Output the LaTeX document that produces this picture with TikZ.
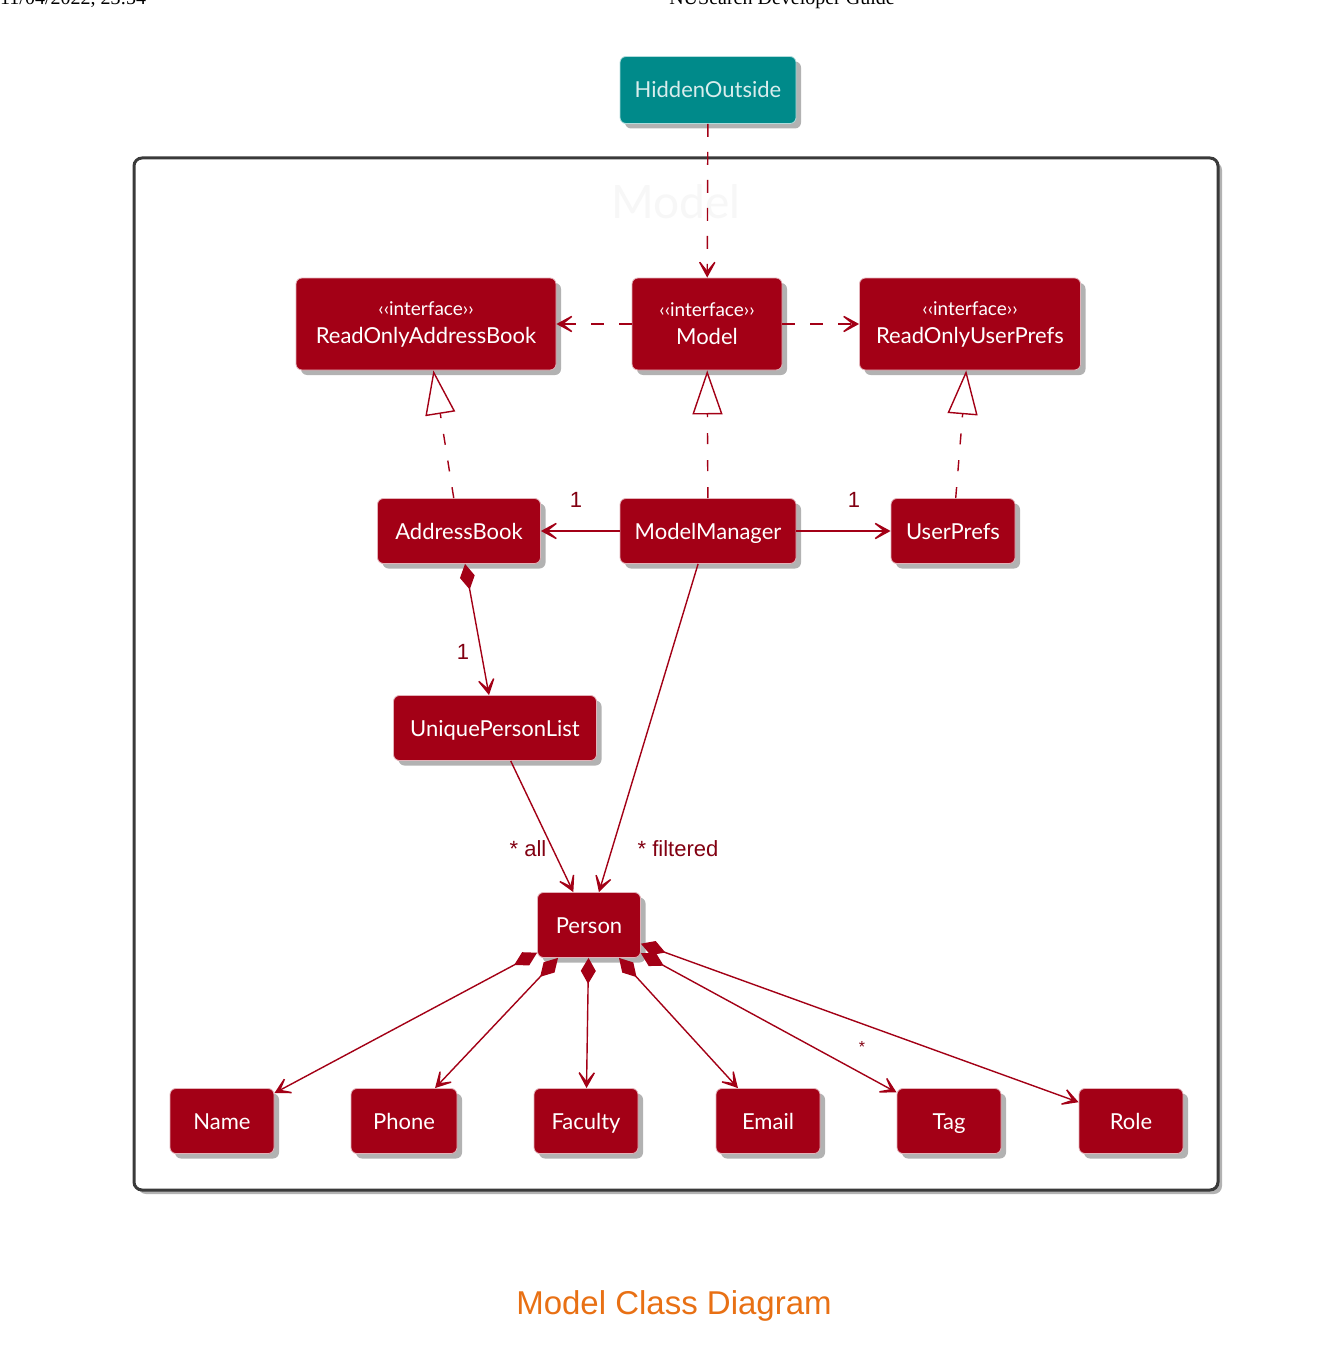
\documentclass[tikz,border=0pt]{standalone}
\usepackage{fontspec}
\setmainfont{Lato}
\newfontfamily\capfont{Liberation Sans}
\newfontfamily\headfont{Liberation Serif}
\usetikzlibrary{arrows.meta,shadows}
\definecolor{umlred}{RGB}{163,0,22}
\definecolor{umlteal}{RGB}{0,138,138}
\definecolor{framegray}{RGB}{58,58,58}
\definecolor{caporange}{RGB}{232,112,20}
\begin{document}
\begin{tikzpicture}[x=1pt, y=-1pt,
  cls/.style={draw=white!70!umlred, line width=0.8pt, fill=umlred, text=white, rounded corners=6pt,
    minimum height=65pt, inner xsep=6pt, font=\fontsize{22}{25}\selectfont,
    drop shadow={shadow xshift=5pt, shadow yshift=-5pt, opacity=0.3, fill=black}},
  plain/.style={cls, text height=18pt, text depth=2pt},
  iface/.style={cls, minimum height=92pt, align=center},
  mult/.style={text=umlred!80!black, font=\capfont\fontsize{22}{24}\selectfont, inner sep=1pt},
  assoc/.style={draw=umlred, line width=1.4pt, -{Stealth[length=22pt, width=24pt, inset=15pt]}},
  dep/.style={assoc, dash pattern=on 13pt off 15pt},
  impl/.style={draw=umlred, line width=1.4pt, dash pattern=on 11pt off 16pt,
    -{Triangle[open, length=44pt, width=30pt, fill=white]}},
  comp/.style={assoc, {Diamond[length=26pt, width=15pt]}-{Stealth[length=22pt, width=24pt, inset=15pt]}}]
\useasboundingbox (0,0) rectangle (1336,1356);
\node[font=\headfont\fontsize{20}{22}\selectfont, anchor=base west, inner sep=0pt] (date) at (0,5) {11/04/2022, 23:54};
\node[font=\headfont\fontsize{20}{22}\selectfont, anchor=base, inner sep=0pt] (header) at (782,5) {NUSearch Developer Guide};
\draw[framegray, line width=3pt, rounded corners=8pt, fill=white,
  drop shadow={shadow xshift=4pt, shadow yshift=-4pt, opacity=0.3, fill=black}] (134,158) rectangle (1218,1190);
\node[text=black!3, font=\fontsize{46}{50}\selectfont] (pkgtitle) at (676,202) {Model};
\node[plain, fill=umlteal, draw=white!70!umlteal, text=white!85!umlteal, minimum width=176pt, minimum height=67pt] (hidden) at (708,90) {HiddenOutside};
\node[iface, minimum width=260pt] (roab) at (426,324) {{\fontsize{19}{21}\selectfont ‹‹interface››}\\[3pt]ReadOnlyAddressBook};
\node[iface, minimum width=150pt] (model) at (707,324) {{\fontsize{19}{21}\selectfont ‹‹interface››}\\[3pt]Model};
\node[iface, minimum width=221pt] (roup) at (970,324) {{\fontsize{19}{21}\selectfont ‹‹interface››}\\[3pt]ReadOnlyUserPrefs};
\node[plain, minimum width=163pt] (ab) at (459,531) {AddressBook};
\node[plain, minimum width=176pt] (mm) at (708,531) {ModelManager};
\node[plain, minimum width=124pt] (up) at (953,531) {UserPrefs};
\node[plain, minimum width=203pt] (upl) at (495,728) {UniquePersonList};
\node[plain, minimum width=103pt] (person) at (589,925) {Person};
\node[plain, minimum width=104pt] (name) at (222,1121) {Name};
\node[plain, minimum width=106pt] (phone) at (404,1121) {Phone};
\node[plain, minimum width=104pt] (faculty) at (586,1121) {Faculty};
\node[plain, minimum width=104pt] (email) at (768,1121) {Email};
\node[plain, minimum width=104pt] (tag) at (949,1121) {Tag};
\node[plain, minimum width=104pt] (role) at (1131,1121) {Role};
\draw[dep] (hidden) -- (model);
\draw[dep] (model) -- (roab);
\draw[dep] (model) -- (roup);
\draw[impl] (ab) -- (roab);
\draw[impl] (mm) -- (model);
\draw[impl] (up) -- (roup);
\draw[assoc] (mm) -- (ab);
\draw[assoc] (mm) -- (up);
\draw[comp] (ab) -- (upl);
\draw[assoc] (upl) -- (person);
\draw[assoc] (mm) -- (person);
\foreach \part in {name,phone,faculty,email,tag,role}
  \draw[comp] (person) -- (\part);
\node[mult] (abmult) at (576,500) {1};
\node[mult] (upmult) at (854,500) {1};
\node[mult] (uplmult) at (463,652) {1};
\node[mult] (allmult) at (528,849) {* all};
\node[mult] (filtmult) at (678,849) {* filtered};
\node[mult, font=\capfont\fontsize{16}{18}\selectfont] (tagmult) at (862,1047) {*};
\node[text=caporange, font=\capfont\fontsize{33}{36}\selectfont] (caption) at (674,1306) {Model Class Diagram};
\end{tikzpicture}
\end{document}
